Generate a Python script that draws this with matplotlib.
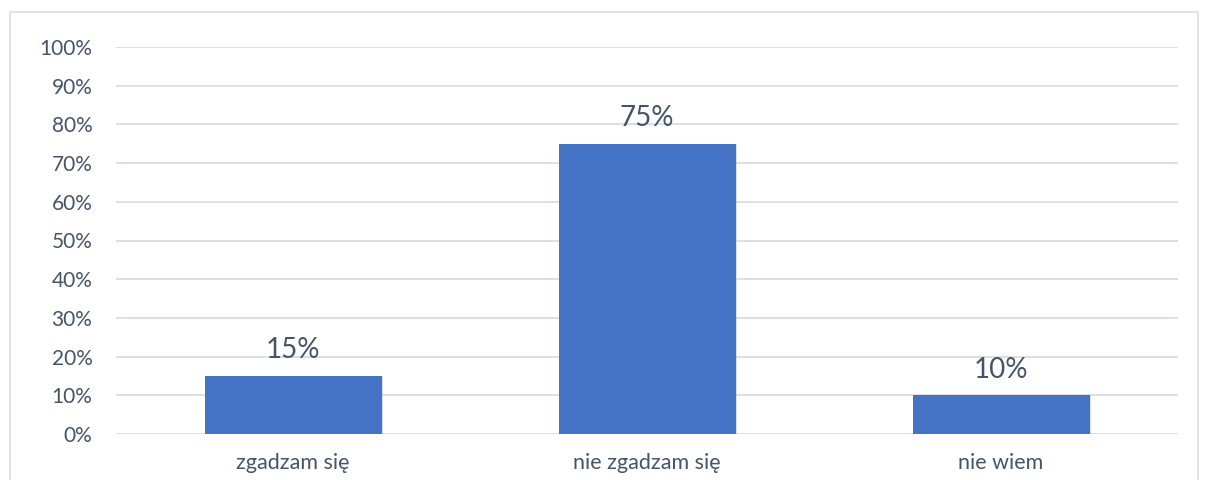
import matplotlib.pyplot as plt
from matplotlib.patches import Rectangle
from matplotlib.ticker import PercentFormatter

categories = ["zgadzam się", "nie zgadzam się", "nie wiem"]
values = [0.15, 0.75, 0.10]
value_labels = ["15%", "75%", "10%"]
yticks = [i / 10 for i in range(11)]

text_col = "#44546A"
grid_col = "#D9DDE3"
bar_col = "#4472C4"

plt.rcParams['font.family'] = ['Lato', 'DejaVu Sans']

fig = plt.figure(figsize=(12.09, 4.80), dpi=100)
ax = fig.add_axes([116 / 1209, 1 - 434 / 480, (1178 - 116) / 1209, (434 - 47) / 480])

# outer chart border
fig.patches.append(Rectangle((10 / 1209, -0.05), (1198 - 10) / 1209, 1.05 - 12 / 480,
                             transform=fig.transFigure, fill=False,
                             edgecolor=grid_col, linewidth=1.2))

x = range(len(categories))
# faint shadow under bars
ax.bar([i + 0.004 for i in x], values, width=0.5, color="#BFBFBF", alpha=0.5, zorder=2)
bars = ax.bar(x, values, width=0.5, color=bar_col, zorder=3)

for b, lab in zip(bars, value_labels):
    ax.annotate(lab, (b.get_x() + b.get_width() / 2, b.get_height()),
                xytext=(0, 9), textcoords="offset points",
                ha="center", va="bottom", fontsize=20, color=text_col)

ax.set_xlim(-0.5, 2.5)
ax.set_ylim(0, 1)
ax.set_yticks(yticks)
ax.yaxis.set_major_formatter(PercentFormatter(1.0, decimals=0))
ax.set_xticks(list(x))
ax.set_xticklabels(categories)
ax.grid(axis="y", color=grid_col, linewidth=1.3, zorder=0)
ax.set_axisbelow(True)
for s in ax.spines.values():
    s.set_visible(False)
ax.tick_params(axis="both", length=0, colors=text_col, labelsize=15)
ax.tick_params(axis="y", pad=17)
ax.tick_params(axis="x", pad=14, labelsize=15.5)

fig.savefig("out.png", dpi=100)
